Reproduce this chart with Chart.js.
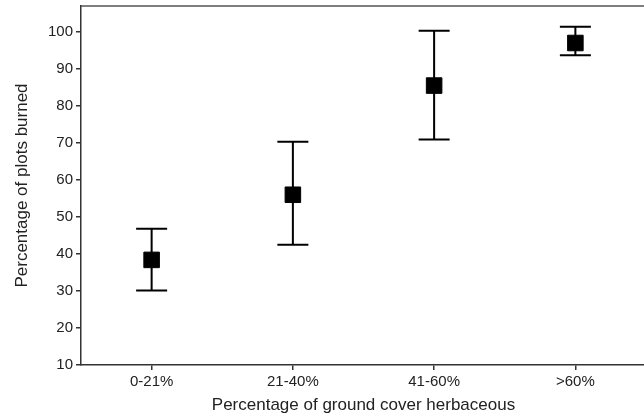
<!DOCTYPE html>
<html>
<head>
<meta charset="utf-8">
<script src="https://cdn.jsdelivr.net/npm/chart.js@4/dist/chart.umd.min.js"></script>
<style>
  html, body { margin: 0; padding: 0; background: #fff; overflow: hidden; }
  #wrap { width: 650px; height: 414px; }
</style>
</head>
<body>
<div id="wrap"><canvas id="c" width="650" height="414"></canvas></div>
<script>
const categories = ['0-21%', '21-40%', '41-60%', '>60%'];
const means = [38.4, 56.0, 85.5, 97.0];
const upper = [46.8, 70.3, 100.3, 101.4];
const lower = [30.1, 42.5, 70.9, 93.7];
const yTicks = [10, 20, 30, 40, 50, 60, 70, 80, 90, 100];
const xTitle = 'Percentage of ground cover herbaceous';
const yTitle = 'Percentage of plots burned';

const errorBars = {
  id: 'errorBars',
  beforeDatasetsDraw(chart) {
    const {ctx, scales: {x, y}} = chart;
    ctx.save();
    ctx.strokeStyle = '#000';
    ctx.lineWidth = 2;
    categories.forEach((c, i) => {
      const px = x.getPixelForValue(i);
      const yu = y.getPixelForValue(upper[i]);
      const yl = y.getPixelForValue(lower[i]);
      ctx.beginPath();
      ctx.moveTo(px, yu); ctx.lineTo(px, yl);
      ctx.moveTo(px - 15.5, yu); ctx.lineTo(px + 15.5, yu);
      ctx.moveTo(px - 15.5, yl); ctx.lineTo(px + 15.5, yl);
      ctx.stroke();
    });
    ctx.restore();
  },
  afterDraw(chart) {
    const {ctx, chartArea} = chart;
    ctx.save();
    ctx.strokeStyle = '#555';
    ctx.lineWidth = 1.5;
    ctx.beginPath();
    ctx.moveTo(chartArea.left, chartArea.top);
    ctx.lineTo(chartArea.right + 5, chartArea.top);
    ctx.stroke();
    ctx.restore();
  }
};

new Chart(document.getElementById('c'), {
  type: 'line',
  data: {
    labels: categories,
    datasets: [{
      data: means,
      showLine: false,
      clip: false,
      pointStyle: 'rect',
      pointRadius: 11,
      pointBorderWidth: 1,
      pointBackgroundColor: '#000',
      pointBorderColor: '#000',
      pointHoverRadius: 11
    }]
  },
  options: {
    responsive: false,
    animation: false,
    events: [],
    layout: { autoPadding: false, padding: { top: 6, right: 4, left: 0, bottom: 0 } },
    plugins: { legend: { display: false }, tooltip: { enabled: false } },
    scales: {
      x: {
        type: 'category',
        offset: true,
        grid: { display: true, drawOnChartArea: false, drawTicks: true, tickLength: 5, color: '#333', lineWidth: 1.5 },
        border: { display: true, color: '#333', width: 1.5 },
        ticks: { color: '#222', font: { family: 'Liberation Sans', size: 15 }, padding: 3, maxRotation: 0 },
        title: { display: true, text: xTitle, color: '#222', font: { family: 'Liberation Sans', size: 17, lineHeight: 1 }, padding: { top: 0, bottom: 0 } },
        afterFit(scale) { scale.height = 49; scale.paddingLeft = 0; scale.paddingRight = 0; }
      },
      y: {
        type: 'linear',
        min: 10,
        max: 107,
        grid: { display: true, drawOnChartArea: false, drawTicks: true, tickLength: 5, color: '#333', lineWidth: 1.5 },
        border: { display: true, color: '#333', width: 1.5 },
        ticks: { stepSize: 10, color: '#222', font: { family: 'Liberation Sans', size: 15 }, padding: 3 },
        afterBuildTicks(scale) { scale.ticks = yTicks.map(v => ({ value: v })); },
        title: { display: true, text: yTitle, color: '#222', font: { family: 'Liberation Sans', size: 17 }, padding: { top: 12, bottom: 0 } },
        afterFit(scale) { scale.width = 81; scale.paddingTop = 0; scale.paddingBottom = 0; }
      }
    }
  },
  plugins: [errorBars]
});
</script>
</body>
</html>
